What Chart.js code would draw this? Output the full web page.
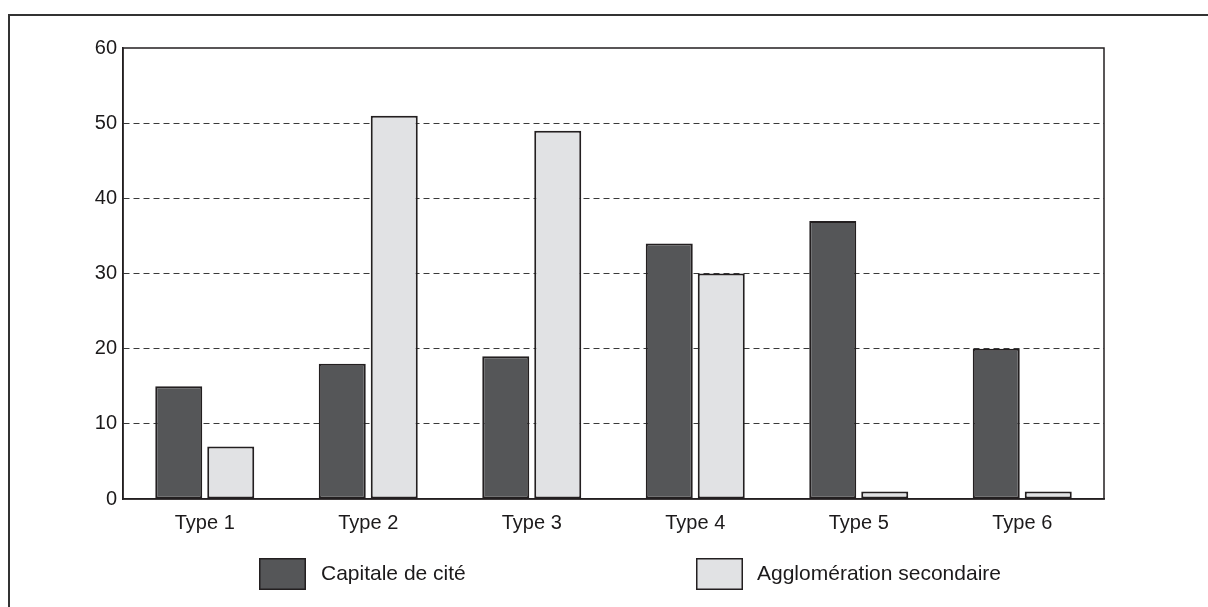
<!DOCTYPE html>
<html>
<head>
<meta charset="utf-8">
<script src="https://cdn.jsdelivr.net/npm/chart.js@4/dist/chart.umd.min.js"></script>
<style>
  html, body { margin: 0; padding: 0; background: #ffffff; }
  #wrap { position: relative; width: 1208px; height: 607px; }
</style>
</head>
<body>
<div id="wrap"><canvas id="c" width="1208" height="607"></canvas></div>
<script>
const categories = ["Type 1", "Type 2", "Type 3", "Type 4", "Type 5", "Type 6"];
const seriesNames = ["Capitale de cité", "Agglomération secondaire"];
const capitaleValues = [15, 18, 19, 34, 37, 20];
const agglomerationValues = [7, 51, 49, 30, 1, 1];
const yTicks = [0, 10, 20, 30, 40, 50, 60];

const FONT = "'Liberation Sans', Arial, Helvetica, sans-serif";
const TEXT = "#1c1a1b";

const framePlugin = {
  id: "frame",
  beforeDraw(chart) {
    const ctx = chart.ctx;
    ctx.save();
    ctx.fillStyle = "#ffffff";
    ctx.fillRect(0, 0, chart.width, chart.height);
    ctx.strokeStyle = "#333333";
    ctx.lineWidth = 2;
    ctx.beginPath();
    ctx.moveTo(9, chart.height + 2);
    ctx.lineTo(9, 15);
    ctx.lineTo(chart.width + 2, 15);
    ctx.stroke();
    ctx.restore();
  },
  afterDatasetsDraw(chart) {
    const a = chart.chartArea;
    const ctx = chart.ctx;
    ctx.save();
    ctx.strokeStyle = "#231f20";
    ctx.lineWidth = 1.5;
    ctx.strokeRect(a.left, a.top, a.right - a.left, a.bottom - a.top);
    ctx.restore();
  },
  afterDraw(chart) {
    const ctx = chart.ctx;
    const items = [
      { box: 259, text: 321 },
      { box: 696, text: 757 }
    ];
    ctx.save();
    chart.data.datasets.forEach((ds, i) => {
      const it = items[i];
      const y = 558;
      ctx.fillStyle = ds.backgroundColor;
      ctx.fillRect(it.box, y, 47, 32);
      ctx.strokeStyle = "#231f20";
      ctx.lineWidth = 1.5;
      ctx.strokeRect(it.box + 0.75, y + 0.75, 45.5, 30.5);
      ctx.fillStyle = TEXT;
      ctx.font = "21px " + FONT;
      ctx.textBaseline = "middle";
      ctx.textAlign = "left";
      ctx.fillText(ds.label, it.text, y + 16);
    });
    ctx.restore();
  }
};

new Chart(document.getElementById("c"), {
  type: "bar",
  data: {
    labels: categories,
    datasets: [
      {
        label: seriesNames[0],
        data: capitaleValues,
        backgroundColor: "#555658",
        borderColor: "#231f20",
        borderWidth: 2,
        borderSkipped: false
      },
      {
        label: seriesNames[1],
        data: agglomerationValues,
        backgroundColor: "#e1e2e4",
        borderColor: "#231f20",
        borderWidth: 2,
        borderSkipped: false
      }
    ]
  },
  options: {
    responsive: false,
    animation: false,
    devicePixelRatio: 1,
    layout: { padding: { left: 0, right: 104, top: 48, bottom: 68 } },
    plugins: {
      legend: { display: false },
      tooltip: { enabled: false }
    },
    datasets: {
      bar: { categoryPercentage: 0.636, barPercentage: 0.904 }
    },
    scales: {
      x: {
        grid: { display: false, drawTicks: false },
        border: { display: true, color: "#231f20", width: 1.5 },
        ticks: { color: TEXT, font: { family: FONT, size: 20 }, padding: 12, maxRotation: 0 },
        afterFit(scale) { scale.height = 40; }
      },
      y: {
        min: 0,
        max: 60,
        afterBuildTicks(scale) { scale.ticks = yTicks.map(v => ({ value: v })); },
        grid: {
          drawTicks: false,
          color: (c) => (c.tick && (c.tick.value === 0 || c.tick.value === 60)) ? "rgba(0,0,0,0)" : "#3a3a3a",
          lineWidth: 1
        },
        border: { display: true, color: "#231f20", width: 1.5, dash: [6, 4] },
        ticks: { color: TEXT, font: { family: FONT, size: 20 }, padding: 6 },
        afterFit(scale) { scale.width = 123; }
      }
    }
  },
  plugins: [framePlugin]
});
</script>
</body>
</html>
